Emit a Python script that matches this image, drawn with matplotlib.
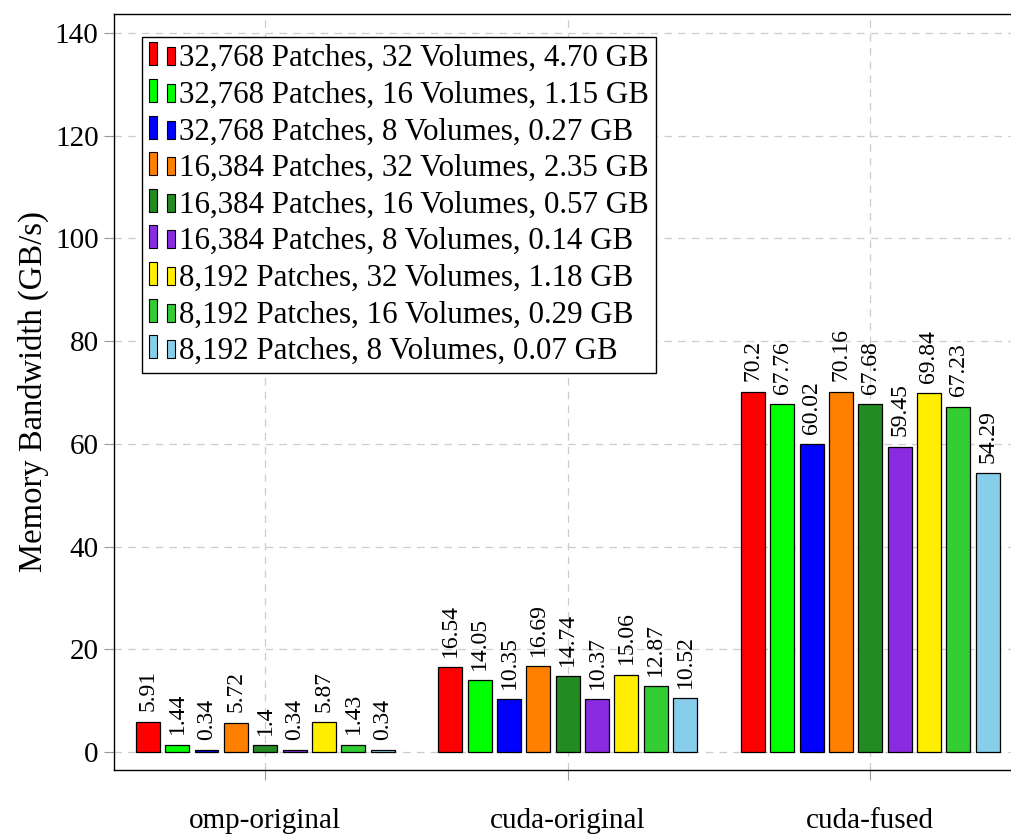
import matplotlib
matplotlib.use('Agg')
import matplotlib.pyplot as plt
import numpy as np
from matplotlib.legend_handler import HandlerBase
from matplotlib.patches import Rectangle

plt.rcParams['font.family'] = ['Liberation Serif', 'DejaVu Serif']

groups = ['omp-original', 'cuda-original', 'cuda-fused']
series = ['32,768 Patches, 32 Volumes, 4.70 GB',
          '32,768 Patches, 16 Volumes, 1.15 GB',
          '32,768 Patches, 8 Volumes, 0.27 GB',
          '16,384 Patches, 32 Volumes, 2.35 GB',
          '16,384 Patches, 16 Volumes, 0.57 GB',
          '16,384 Patches, 8 Volumes, 0.14 GB',
          '8,192 Patches, 32 Volumes, 1.18 GB',
          '8,192 Patches, 16 Volumes, 0.29 GB',
          '8,192 Patches, 8 Volumes, 0.07 GB']
colors = ['#ff0000', '#00ff00', '#0000ff', '#ff8000', '#228b22',
          '#8a2be2', '#ffee00', '#32cd32', '#87ceeb']
# one list per series: omp-original, cuda-original, cuda-fused
values = [[5.91, 16.54, 70.2],
          [1.44, 14.05, 67.76],
          [0.34, 10.35, 60.02],
          [5.72, 16.69, 70.16],
          [1.4, 14.74, 67.68],
          [0.34, 10.37, 59.45],
          [5.87, 15.06, 69.84],
          [1.43, 12.87, 67.23],
          [0.34, 10.52, 54.29]]
labels = [['5.91', '16.54', '70.2'],
          ['1.44', '14.05', '67.76'],
          ['0.34', '10.35', '60.02'],
          ['5.72', '16.69', '70.16'],
          ['1.4', '14.74', '67.68'],
          ['0.34', '10.37', '59.45'],
          ['5.87', '15.06', '69.84'],
          ['1.43', '12.87', '67.23'],
          ['0.34', '10.52', '54.29']]


class TwoBars(HandlerBase):
    # pgfplots style ybar legend image: two small bars, bottoms aligned
    def create_artists(self, legend, orig, xd, yd, w, h, fontsize, trans):
        fc = orig.get_facecolor()
        bw = w * 0.32
        r1 = Rectangle((xd, yd), bw, h, facecolor=fc,
                       edgecolor='black', lw=0.8, transform=trans)
        r2 = Rectangle((xd + w - bw, yd), bw, h * 0.78, facecolor=fc,
                       edgecolor='black', lw=0.8, transform=trans)
        return [r1, r2]


fig = plt.figure(figsize=(10.12, 8.39), dpi=100)
ax = fig.add_axes([0.1126, 0.0822, 0.8968, 0.9011])

x = np.arange(len(groups))
step = 0.097
width = 0.079
handles = []
for i in range(len(series)):
    pos = x + (i - 4) * step
    b = ax.bar(pos, values[i], width, color=colors[i], edgecolor='black',
               linewidth=0.9, label=series[i], zorder=3)
    handles.append(b[0])
    for j in range(len(groups)):
        ax.text(pos[j], values[i][j] + 2.0, labels[i][j], rotation=90,
                ha='center', va='bottom', fontsize=17, zorder=4)

ax.set_xlim(-0.5, 2.5)
ax.set_ylim(-3.5, 143.7)
ax.set_xticks(x)
ax.set_xticklabels(groups, fontsize=24)
ax.set_yticks(np.arange(0, 141, 20))
ax.tick_params(axis='both', direction='out', length=7, color='#999999',
               labelsize=21, pad=4)
ax.tick_params(axis='x', pad=20)
ax.grid(True, linestyle=(0, (6, 5)), color='#cccccc', linewidth=0.9, zorder=0)
ax.set_axisbelow(True)
for s in ['left', 'top', 'bottom']:
    ax.spines[s].set_linewidth(1.0)
ax.spines['right'].set_visible(False)
ax.set_ylabel('Memory Bandwidth (GB/s)', fontsize=23.5, labelpad=4)

leg = ax.legend(handles=handles, labels=series, loc='upper left',
                bbox_to_anchor=(0.0309, 0.9696), fontsize=22.3,
                handler_map={Rectangle: TwoBars()}, handlelength=0.84,
                handleheight=0.77, handletextpad=0.15, labelspacing=0.235,
                borderpad=0.22, borderaxespad=0, fancybox=False,
                framealpha=1, edgecolor='black')
leg.get_frame().set_linewidth(1.0)
leg.set_zorder(5)

fig.savefig('out.png', dpi=100)
